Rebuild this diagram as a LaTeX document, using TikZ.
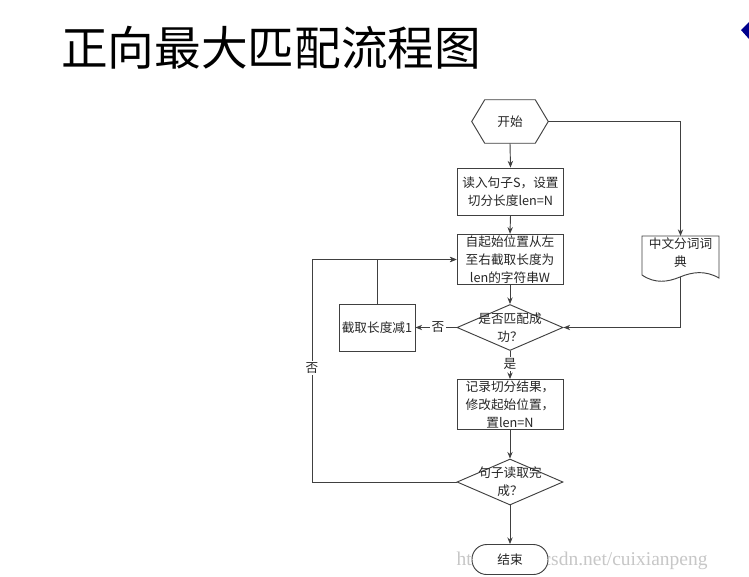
\documentclass[tikz,border=0pt]{standalone}
\usepackage{fontspec}
\setmainfont{Noto Sans CJK SC}
\newfontfamily\wmfont{Liberation Serif}
\usetikzlibrary{shapes.geometric,calc,arrows.meta}
\begin{document}
\begin{tikzpicture}[x=0.75pt,y=-0.75pt,
  every node/.style={font=\fontsize{9.5pt}{13.5pt}\selectfont, align=center, text=black!85},
  proc/.style={draw=black!75, line width=0.7pt, fill=white, minimum width=79.5pt, minimum height=35.25pt, inner sep=1pt},
  dia/.style={draw=black!75, line width=0.7pt, fill=white, diamond, minimum width=79.5pt, minimum height=34.5pt, inner sep=0pt},
  ghost/.style={minimum width=57pt, minimum height=32.25pt, inner sep=0pt},
  arr/.style={draw=black!75, line width=0.7pt, -{Stealth[length=5pt,width=4pt]}},
  ln/.style={draw=black!75, line width=0.7pt},
  lab/.style={fill=white, inner sep=1pt}]
\useasboundingbox (0,0) rectangle (749,576);
\fill[white] (0,0) rectangle (749,576);

% title
\node[font=\fontsize{35pt}{38pt}\selectfont, text=black] (title) at (271,48) {正向最大匹配流程图};
% blue decoration
\fill[blue!55!black] (741,30) -- (749,22) -- (749,39) -- cycle;

% watermark
\node[font=\wmfont\fontsize{14.6pt}{16pt}\selectfont, text=black!22] (wm) at (582,561) {http://blog.csdn.net/cuixianpeng};

% start hexagon
\node[ghost] (start) at (510,121.5) {开始};
\draw[ln, fill=white] ($(start.north west)+(13,0)$) -- ($(start.north east)+(-13,0)$) -- (start.east)
  -- ($(start.south east)+(-13,0)$) -- ($(start.south west)+(13,0)$) -- (start.west) -- cycle;
\node[ghost] at (start) {开始};

\node[proc] (b1) at (510.5,191.5) {读入句子S，设置\\切分长度len=N};
\node[proc] (b2) at (510,259.5) {自起始位置从左\\至右截取长度为\\len的字符串W};
\node[dia, label={center:是否匹配成\\功？}] (d1) at (510,327.5) {};
\node[proc, minimum width=57pt] (b3) at (377,327.5) {截取长度减1};
\node[proc] (b4) at (510,404.5) {记录切分结果，\\修改起始位置，\\置len=N};
\node[dia, label={center:句子读取完\\成？}] (d2) at (510,482) {};
\node[draw=black!75, line width=0.7pt, fill=white, rounded corners=11pt, minimum width=57pt, minimum height=22.5pt, inner sep=0pt] (end) at (510,559.5) {结束};

% document shape
\node[minimum width=57.75pt, minimum height=30.75pt, inner sep=0pt, anchor=north] (doc) at (680.5,236) {};
\draw[ln, fill=white] (642,236) -- (719,236) -- (719,278)
  .. controls (705,270) and (692,272) .. (680,277)
  .. controls (668,282) and (655,284) .. (642,275) -- cycle;
\node at (680.5,253) {中文分词词\\典};
\coordinate (docb) at (680,277);

% connectors
\draw[arr] (start.south) -- (b1.north);
\draw[arr] (b1.south) -- (b2.north);
\draw[arr] (b2.south) -- (d1.north);
\draw[arr] (d1.south) -- node[lab, pos=0.45] {是} (b4.north);
\draw[arr] (b4.south) -- (d2.north);
\draw[arr] (d2.south) -- (end.north);
\draw[arr] (d1.west) -- node[lab, pos=0.45] {否} (b3.east);
\draw[arr] (b3.north) |- (b2.west);
\coordinate (lc) at (312,482);
\draw[arr] (d2.west) -- (lc) |- (b2.west);
\node[lab] (no2) at (312,368) {否};
\draw[arr] (start.east) -| (doc.north);
\draw[arr] (docb) |- (d1.east);
\end{tikzpicture}
\end{document}
